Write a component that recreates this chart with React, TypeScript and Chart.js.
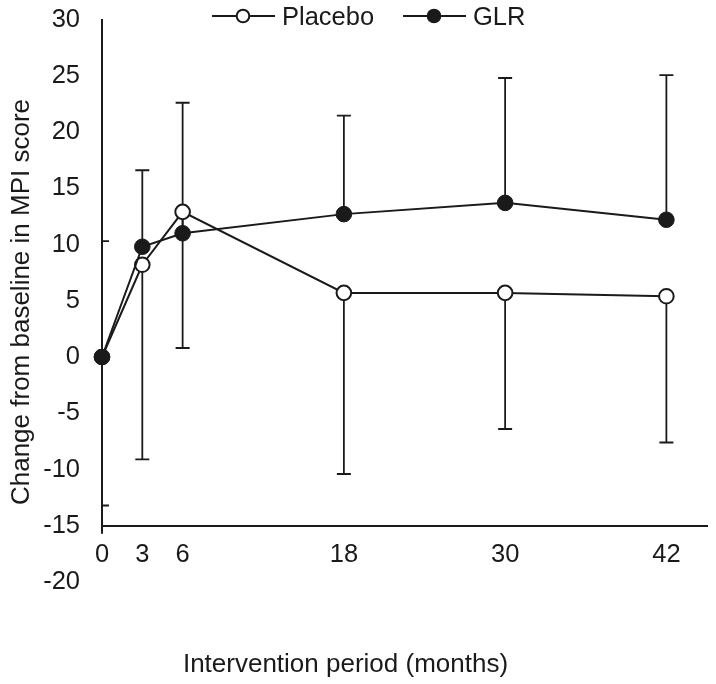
import React, { useEffect, useRef } from "react";
import { Chart, registerables } from "chart.js";

Chart.register(...registerables);

// ---- data ----
const months = [0, 3, 6, 18, 30, 42];
const placeboMean = [0, 8.2, 12.9, 5.7, 5.7, 5.4];
const placeboSD = [13.2, 17.3, 12.1, 16.1, 12.1, 13.0];
const glrMean = [0, 9.8, 11.0, 12.7, 13.7, 12.2];
const glrSD = [10.3, 6.8, 11.6, 8.75, 11.1, 12.85];
const yTickValues = [-20, -15, -10, -5, 0, 5, 10, 15, 20, 25, 30];
const xTickValues = [0, 3, 6, 18, 30, 42];
const seriesNames = ["Placebo", "GLR"];
const xTitle = "Intervention period (months)";
const yTitle = "Change from baseline in MPI score";

const FONT = "'Liberation Sans', Arial, Helvetica, sans-serif";
const INK = "#1a1a1a";

const errorBarsPlugin = {
  id: "errorBars",
  beforeDatasetsDraw(chart: any) {
    const { ctx, chartArea, scales } = chart;
    const x = scales.x;
    const y = scales.y;
    ctx.save();
    ctx.beginPath();
    ctx.rect(chartArea.left, 0, chartArea.right - chartArea.left, chart.height);
    ctx.clip();
    ctx.strokeStyle = INK;
    ctx.lineWidth = 1.8;
    const cap = 7;
    months.forEach((m, i) => {
      const px = x.getPixelForValue(m);
      // GLR: upward bar
      const gMid = y.getPixelForValue(glrMean[i]);
      const gTop = y.getPixelForValue(glrMean[i] + glrSD[i]);
      ctx.beginPath();
      ctx.moveTo(px, gMid);
      ctx.lineTo(px, gTop);
      ctx.moveTo(px - cap, gTop);
      ctx.lineTo(px + cap, gTop);
      ctx.stroke();
      // Placebo: downward bar
      const pMid = y.getPixelForValue(placeboMean[i]);
      const pBot = y.getPixelForValue(placeboMean[i] - placeboSD[i]);
      ctx.beginPath();
      ctx.moveTo(px, pMid);
      ctx.lineTo(px, pBot);
      ctx.moveTo(px - cap, pBot);
      ctx.lineTo(px + cap, pBot);
      ctx.stroke();
    });
    ctx.restore();
  },
};

const annotationsPlugin = {
  id: "titlesLegend",
  afterDraw(chart: any) {
    const { ctx } = chart;
    ctx.save();
    ctx.fillStyle = INK;
    ctx.strokeStyle = INK;
    // legend
    const legendItems = [
      { name: seriesNames[0], x0: 212, filled: false },
      { name: seriesNames[1], x0: 403, filled: true },
    ];
    const ly = 16;
    legendItems.forEach((it) => {
      ctx.lineWidth = 2;
      ctx.beginPath();
      ctx.moveTo(it.x0, ly);
      ctx.lineTo(it.x0 + 63, ly);
      ctx.stroke();
      ctx.beginPath();
      ctx.arc(it.x0 + 31, ly, 6.3, 0, Math.PI * 2);
      ctx.fillStyle = it.filled ? INK : "#ffffff";
      ctx.fill();
      ctx.lineWidth = 2;
      ctx.stroke();
      ctx.fillStyle = INK;
      ctx.font = `25.5px ${FONT}`;
      ctx.textAlign = "left";
      ctx.textBaseline = "alphabetic";
      ctx.fillText(it.name, it.x0 + 70, 24.5);
    });
    // x title
    ctx.font = `26px ${FONT}`;
    ctx.textAlign = "center";
    ctx.textBaseline = "alphabetic";
    ctx.fillText(xTitle, 345.5, 672);
    // y title
    ctx.translate(28.5, 302);
    ctx.rotate(-Math.PI / 2);
    ctx.fillText(yTitle, 0, 0);
    ctx.restore();
  },
};

export default function App() {
  const canvasRef = useRef<HTMLCanvasElement | null>(null);

  useEffect(() => {
    if (!canvasRef.current) return;
    const mk = (arr: number[]) => months.map((m, i) => ({ x: m, y: arr[i] }));
    const chart = new Chart(canvasRef.current, {
      type: "line",
      data: {
        datasets: [
          {
            label: seriesNames[0],
            data: mk(placeboMean),
            borderColor: INK,
            borderWidth: 2,
            pointRadius: 7.3,
            pointBorderWidth: 2,
            pointBackgroundColor: "#ffffff",
            pointBorderColor: INK,
            tension: 0,
            clip: false,
            order: 2,
          },
          {
            label: seriesNames[1],
            data: mk(glrMean),
            borderColor: INK,
            borderWidth: 2,
            pointRadius: 7.8,
            pointBorderWidth: 1,
            pointBackgroundColor: INK,
            pointBorderColor: INK,
            tension: 0,
            clip: false,
            order: 1,
          },
        ],
      },
      options: {
        animation: false,
        responsive: false,
        maintainAspectRatio: false,
        layout: { padding: { top: 19.5, right: 9, bottom: 0, left: 0 } },
        plugins: {
          legend: { display: false },
          tooltip: { enabled: false },
        },
        scales: {
          x: {
            type: "linear",
            min: 0,
            max: 45,
            afterBuildTicks: (scale: any) => {
              scale.ticks = xTickValues.map((v) => ({ value: v }));
            },
            afterFit: (scale: any) => {
              scale.height = 684 - 525.75;
              scale.paddingLeft = 0;
              scale.paddingRight = 0;
              scale.paddingTop = 0;
              scale.paddingBottom = 0;
            },
            grid: {
              display: true,
              drawOnChartArea: false,
              drawTicks: true,
              tickLength: 8,
              lineWidth: 2,
              color: (c: any) => (c.tick && c.tick.value === 0 ? INK : "rgba(0,0,0,0)"),
            },
            border: { display: true, color: INK, width: 2 },
            ticks: {
              autoSkip: false,
              maxRotation: 0,
              padding: 8.5,
              color: INK,
              font: { family: FONT, size: 25.5, lineHeight: 1 },
              callback: (v: any) => String(v),
            },
          },
          y: {
            type: "linear",
            min: -15,
            max: 30,
            afterBuildTicks: (scale: any) => {
              scale.ticks = yTickValues.map((v) => ({ value: v }));
            },
            afterFit: (scale: any) => {
              scale.width = 102;
              scale.paddingLeft = 0;
              scale.paddingRight = 0;
              scale.paddingTop = 0;
              scale.paddingBottom = 0;
            },
            grid: { display: false, drawTicks: false },
            border: { display: true, color: INK, width: 2 },
            ticks: {
              autoSkip: false,
              padding: 22,
              color: INK,
              font: { family: FONT, size: 25.5, lineHeight: 1 },
              callback: (v: any) => String(v),
            },
          },
        },
      },
      plugins: [errorBarsPlugin, annotationsPlugin],
    } as any);
    return () => chart.destroy();
  }, []);

  return (
    <div style={{ position: "fixed", left: 0, top: 0, width: 716, height: 684, background: "#fff" }}>
      <canvas ref={canvasRef} width={716} height={684} style={{ display: "block", width: 716, height: 684 }} />
    </div>
  );
}
